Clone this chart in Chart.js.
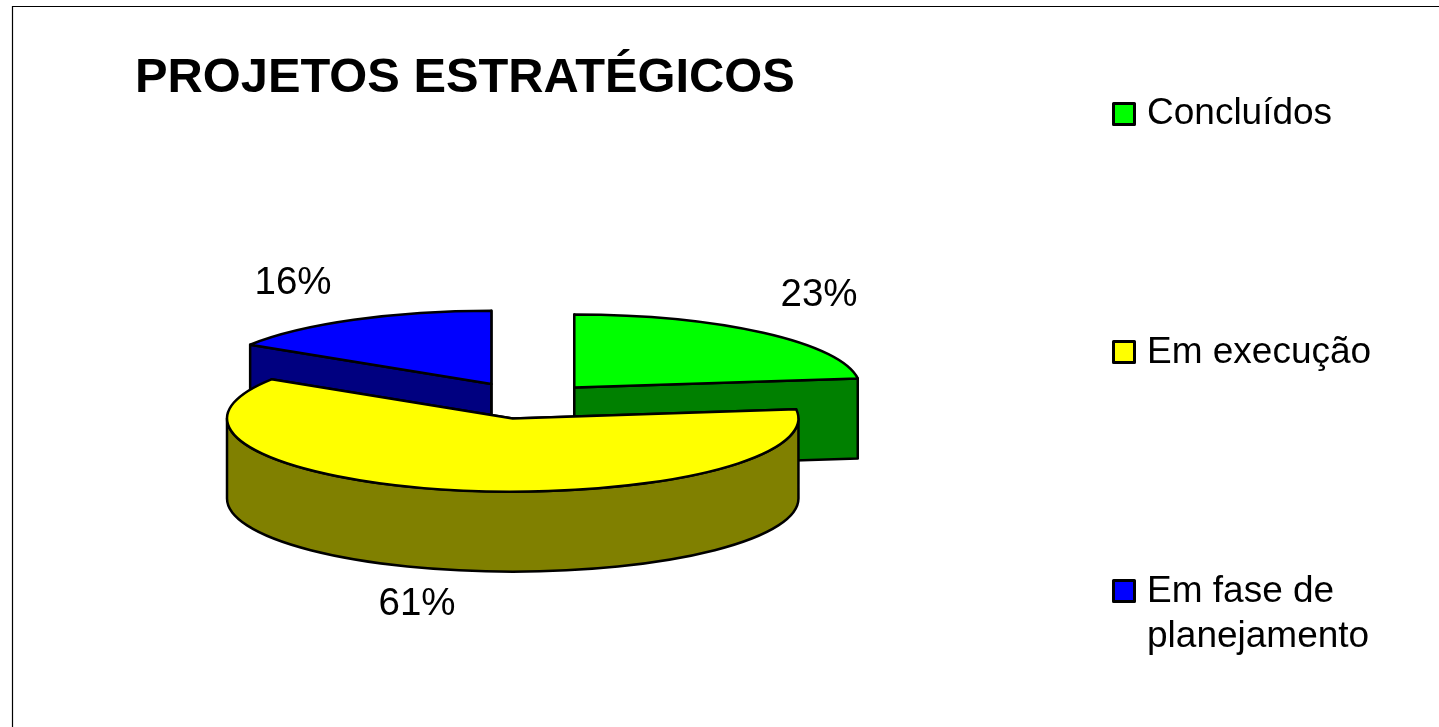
<!DOCTYPE html>
<html>
<head>
<meta charset="utf-8">
<title>Projetos estratégicos</title>
<script src="https://cdn.jsdelivr.net/npm/chart.js@4/dist/chart.umd.js"></script>
<style>
html, body { margin: 0; padding: 0; background: #fff; overflow: hidden; }
#wrap { width: 1439px; height: 727px; }
</style>
</head>
<body>
<div id="wrap"><canvas id="myChart"></canvas></div>
<script>
const titleText = 'PROJETOS ESTRATÉGICOS';
const categories = ['Concluídos', 'Em execução', ['Em fase de', 'planejamento']];
const values = [23, 61, 16];
const topColors = ['#00ff00', '#ffff00', '#0000ff'];
const sideColors = ['#008000', '#808000', '#000080'];

// look of the tilted pie, in page pixels
const pieX = 528, pieY = 401, tilt = 0.256, depth = 80;
const explode = [70, 70, 76];
const drawOrder = [2, 0, 1];
const labelPos = [[819, 295], [417, 604], [293, 283]];
const legendY = [112, 350, 589];
const legendTextY = [114, 353, 592];

const fontName = '"Liberation Sans", Arial, sans-serif';

function outline(ctx) {
	ctx.strokeStyle = '#000';
	ctx.lineWidth = 2.5;
	ctx.lineJoin = 'round';
	ctx.stroke();
}

const tiltedPie = {
	id: 'tiltedPie',
	beforeDraw(chart) {
		const { ctx } = chart;
		ctx.save();
		ctx.strokeStyle = '#000';
		ctx.lineWidth = 1.2;
		ctx.beginPath();
		ctx.moveTo(12.5, 727);
		ctx.lineTo(12.5, 6.5);
		ctx.lineTo(1439, 6.5);
		ctx.stroke();
		ctx.restore();
	},
	beforeDatasetsDraw(chart) {
		const { ctx } = chart;
		const arcs = chart.getDatasetMeta(0).data;
		drawOrder.forEach((i) => {
			const arc = arcs[i];
			const r = arc.outerRadius;
			const a0 = arc.startAngle, a1 = arc.endAngle;
			const mid = (a0 + a1) / 2;
			const cx = pieX + Math.cos(mid) * explode[i];
			const cy = pieY + Math.sin(mid) * explode[i] * tilt;
			const px = (a) => cx + Math.cos(a) * r;
			const py = (a) => cy + Math.sin(a) * r * tilt;

			// radial cut faces
			[a0, a1].forEach((a) => {
				ctx.beginPath();
				ctx.moveTo(cx, cy);
				ctx.lineTo(px(a), py(a));
				ctx.lineTo(px(a), py(a) + depth);
				ctx.lineTo(cx, cy + depth);
				ctx.closePath();
				ctx.fillStyle = sideColors[i];
				ctx.fill();
				outline(ctx);
			});

			// outer wall, only the part that faces the viewer
			const w0 = Math.max(a0, 0), w1 = Math.min(a1, Math.PI);
			if (w1 > w0) {
				ctx.beginPath();
				ctx.ellipse(cx, cy, r, r * tilt, 0, w0, w1);
				ctx.ellipse(cx, cy + depth, r, r * tilt, 0, w1, w0, true);
				ctx.closePath();
				ctx.fillStyle = sideColors[i];
				ctx.fill();
				outline(ctx);
			}

			// top face, drawn by the arc element itself under the tilt
			ctx.save();
			ctx.translate(cx, cy);
			ctx.scale(1, tilt);
			ctx.translate(-arc.x, -arc.y);
			arc.draw(ctx);
			ctx.restore();

			ctx.beginPath();
			ctx.moveTo(cx, cy);
			ctx.ellipse(cx, cy, r, r * tilt, 0, a0, a1);
			ctx.closePath();
			outline(ctx);
		});
		return false;
	},
	afterDraw(chart) {
		const { ctx } = chart;
		ctx.save();
		ctx.fillStyle = '#000';
		ctx.textBaseline = 'middle';

		ctx.font = '38.5px ' + fontName;
		ctx.textAlign = 'center';
		values.forEach((v, i) => {
			ctx.fillText(v + '%', labelPos[i][0], labelPos[i][1]);
		});

		ctx.textAlign = 'left';
		ctx.font = '37px ' + fontName;
		categories.forEach((cat, i) => {
			ctx.fillStyle = topColors[i];
			ctx.fillRect(1113.5, legendY[i] - 8.5, 21, 21);
			ctx.strokeStyle = '#000';
			ctx.lineWidth = 3;
			ctx.strokeRect(1113.5, legendY[i] - 8.5, 21, 21);
			ctx.fillStyle = '#000';
			[].concat(cat).forEach((line, n) => {
				ctx.fillText(line, 1147, legendTextY[i] + n * 45);
			});
		});
		ctx.restore();
	},
};

new Chart(document.getElementById('myChart'), {
	type: 'pie',
	data: {
		labels: categories,
		datasets: [
			{
				data: values,
				backgroundColor: topColors,
				borderWidth: 0,
			},
		],
	},
	options: {
		responsive: true,
		maintainAspectRatio: false,
		animation: false,
		layout: { padding: { left: 135, top: 0, bottom: 48, right: 0 } },
		plugins: {
			legend: { display: false },
			tooltip: { enabled: false },
			title: {
				display: true,
				text: titleText,
				align: 'start',
				color: '#000',
				font: { family: fontName, size: 48.8, weight: 'bold', lineHeight: 1.2 },
				padding: { top: 49, bottom: 0 },
			},
		},
	},
	plugins: [tiltedPie],
});
</script>
</body>
</html>
